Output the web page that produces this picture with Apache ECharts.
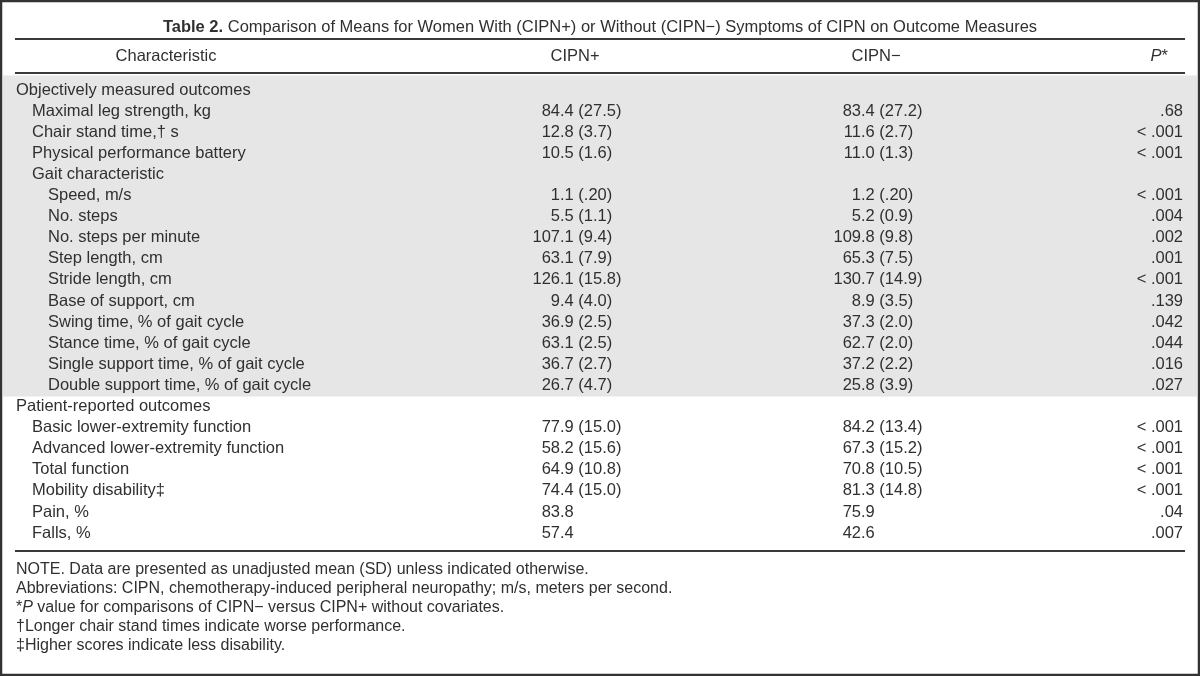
<!DOCTYPE html>
<html><head><meta charset="utf-8">
<script src="https://cdn.jsdelivr.net/npm/echarts@6.0.0/dist/echarts.min.js"></script>
<style>html,body{margin:0;padding:0;background:#fff}#c{width:1200px;height:676px}</style>
</head><body><div id="c"></div>
<script>
// ---- data ----
const titleBold = 'Table 2.';
const titleText = 'Comparison of Means for Women With (CIPN+) or Without (CIPN\u2212) Symptoms of CIPN on Outcome Measures';
const headers = ['Characteristic', 'CIPN+', 'CIPN\u2212', 'P*'];
const labels = [
  'Objectively measured outcomes',
  'Maximal leg strength, kg',
  'Chair stand time,\u2020 s',
  'Physical performance battery',
  'Gait characteristic',
  'Speed, m/s',
  'No. steps',
  'No. steps per minute',
  'Step length, cm',
  'Stride length, cm',
  'Base of support, cm',
  'Swing time, % of gait cycle',
  'Stance time, % of gait cycle',
  'Single support time, % of gait cycle',
  'Double support time, % of gait cycle',
  'Patient-reported outcomes',
  'Basic lower-extremity function',
  'Advanced lower-extremity function',
  'Total function',
  'Mobility disability\u2021',
  'Pain, %',
  'Falls, %'
];
const levels = [0,1,1,1,1,2,2,2,2,2,2,2,2,2,2,0,1,1,1,1,1,1];
const shaded = [1,1,1,1,1,1,1,1,1,1,1,1,1,1,1,0,0,0,0,0,0,0];
const cipnPlus = ['', '84.4 (27.5)', '12.8 (3.7)', '10.5 (1.6)', '', '1.1 (.20)', '5.5 (1.1)', '107.1 (9.4)', '63.1 (7.9)', '126.1 (15.8)', '9.4 (4.0)', '36.9 (2.5)', '63.1 (2.5)', '36.7 (2.7)', '26.7 (4.7)', '', '77.9 (15.0)', '58.2 (15.6)', '64.9 (10.8)', '74.4 (15.0)', '83.8', '57.4'];
const cipnMinus = ['', '83.4 (27.2)', '11.6 (2.7)', '11.0 (1.3)', '', '1.2 (.20)', '5.2 (0.9)', '109.8 (9.8)', '65.3 (7.5)', '130.7 (14.9)', '8.9 (3.5)', '37.3 (2.0)', '62.7 (2.0)', '37.2 (2.2)', '25.8 (3.9)', '', '84.2 (13.4)', '67.3 (15.2)', '70.8 (10.5)', '81.3 (14.8)', '75.9', '42.6'];
const pValues = ['', '.68', '< .001', '< .001', '', '< .001', '.004', '.002', '.001', '< .001', '.139', '.042', '.044', '.016', '.027', '', '< .001', '< .001', '< .001', '< .001', '.04', '.007'];
const notes = [
  'NOTE. Data are presented as unadjusted mean (SD) unless indicated otherwise.',
  'Abbreviations: CIPN, chemotherapy-induced peripheral neuropathy; m/s, meters per second.',
  '*{i|P} value for comparisons of CIPN\u2212 versus CIPN+ without covariates.',
  '\u2020Longer chair stand times indicate worse performance.',
  '\u2021Higher scores indicate less disability.'
];

// ---- layout ----
const FONT = 'Liberation Sans, Arial, Helvetica, sans-serif';
const FS = 16.5;
const FS_NOTE = 16;
const TXT = '#303030';
const LINE = '#3a3a3a';
const indentX = [16, 32, 48];
const plusDec = 560, minusDec = 861, pRight = 1183;
const rowH = 21.1, firstRow = 90;

const chart = echarts.init(document.getElementById('c'), null, {renderer: 'canvas'});

function splitDec(s) {
  const k = s.indexOf('.');
  if (k < 0) return [s, ''];
  return [s.slice(0, k), s.slice(k)];
}
function txt(text, x, y, align) {
  return {type: 'text', style: {text: text, x: x, y: y, fill: TXT, font: FS + 'px ' + FONT, align: align, verticalAlign: 'middle'}};
}

function renderBg(params, api) {
  const i = api.value(1);
  if (!shaded[i]) return {type: 'group', children: []};
  const c0 = api.coord([3, i]);
  const c1 = api.coord([1197, i]);
  const h = api.size([0, 1])[1];
  let top = c0[1] - h / 2;
  let height = h;
  if (i === 0) { top -= 4; height += 4; }
  return {type: 'rect', shape: {x: c0[0], y: top, width: c1[0] - c0[0], height: height + 0.5}, style: {fill: '#e6e6e6'}};
}

function renderRow(params, api) {
  const i = api.value(1);
  const children = [];
  const y = api.coord([0, i])[1];
  children.push(txt(labels[i], api.coord([indentX[levels[i]], i])[0], y, 'left'));
  [[cipnPlus[i], plusDec], [cipnMinus[i], minusDec]].forEach(function (pair) {
    if (!pair[0]) return;
    const parts = splitDec(pair[0]);
    const x = api.coord([pair[1], i])[0];
    children.push(txt(parts[0], x, y, 'right'));
    if (parts[1]) children.push(txt(parts[1], x, y, 'left'));
  });
  if (pValues[i]) children.push(txt(pValues[i], api.coord([pRight, i])[0], y, 'right'));
  return {type: 'group', children: children};
}

const rowData = labels.map(function (l, i) { return [0, i]; });

const graphics = [
  {type: 'rect', shape: {x: 1, y: 1, width: 1198, height: 674}, style: {fill: 'none', stroke: '#333', lineWidth: 2.5}, z: 100},
  {type: 'text', style: {text: '{b|' + titleBold + '} ' + titleText, x: 600, y: 27, align: 'center', verticalAlign: 'middle', fill: TXT, font: FS + 'px ' + FONT, rich: {b: {fontWeight: 'bold', fontSize: FS, fontFamily: FONT, fill: TXT}}}},
  {type: 'line', shape: {x1: 15, y1: 39, x2: 1185, y2: 39}, style: {stroke: LINE, lineWidth: 2}},
  {type: 'line', shape: {x1: 15, y1: 73, x2: 1185, y2: 73}, style: {stroke: LINE, lineWidth: 2}},
  {type: 'line', shape: {x1: 15, y1: 551, x2: 1185, y2: 551}, style: {stroke: LINE, lineWidth: 2}},
  {type: 'text', style: {text: headers[0], x: 166, y: 56, align: 'center', verticalAlign: 'middle', fill: TXT, font: FS + 'px ' + FONT}},
  {type: 'text', style: {text: headers[1], x: 575, y: 56, align: 'center', verticalAlign: 'middle', fill: TXT, font: FS + 'px ' + FONT}},
  {type: 'text', style: {text: headers[2], x: 876, y: 56, align: 'center', verticalAlign: 'middle', fill: TXT, font: FS + 'px ' + FONT}},
  {type: 'text', style: {text: '{i|' + headers[3].charAt(0) + '}' + headers[3].slice(1), x: 1168, y: 56, align: 'right', verticalAlign: 'middle', fill: TXT, font: FS + 'px ' + FONT, rich: {i: {fontStyle: 'italic', fontSize: FS, fontFamily: FONT, fill: TXT}}}}
];
notes.forEach(function (n, k) {
  graphics.push({type: 'text', style: {text: n, x: 16, y: 570 + k * 19, align: 'left', verticalAlign: 'middle', fill: TXT, font: FS_NOTE + 'px ' + FONT, rich: {i: {fontStyle: 'italic', fontSize: FS_NOTE, fontFamily: FONT, fill: TXT}}}});
});

chart.setOption({
  animation: false,
  backgroundColor: '#fff',
  grid: {left: 0, right: 0, top: firstRow - rowH / 2, height: rowH * labels.length},
  xAxis: {type: 'value', min: 0, max: 1200, show: false},
  yAxis: {type: 'category', data: labels, inverse: true, show: false},
  graphic: graphics,
  series: [
    {type: 'custom', renderItem: renderBg, data: rowData, encode: {x: 0, y: 1}, clip: false, z: 1, silent: true},
    {type: 'custom', renderItem: renderRow, data: rowData, encode: {x: 0, y: 1}, clip: false, z: 2, silent: true}
  ]
});
</script>
</body></html>
